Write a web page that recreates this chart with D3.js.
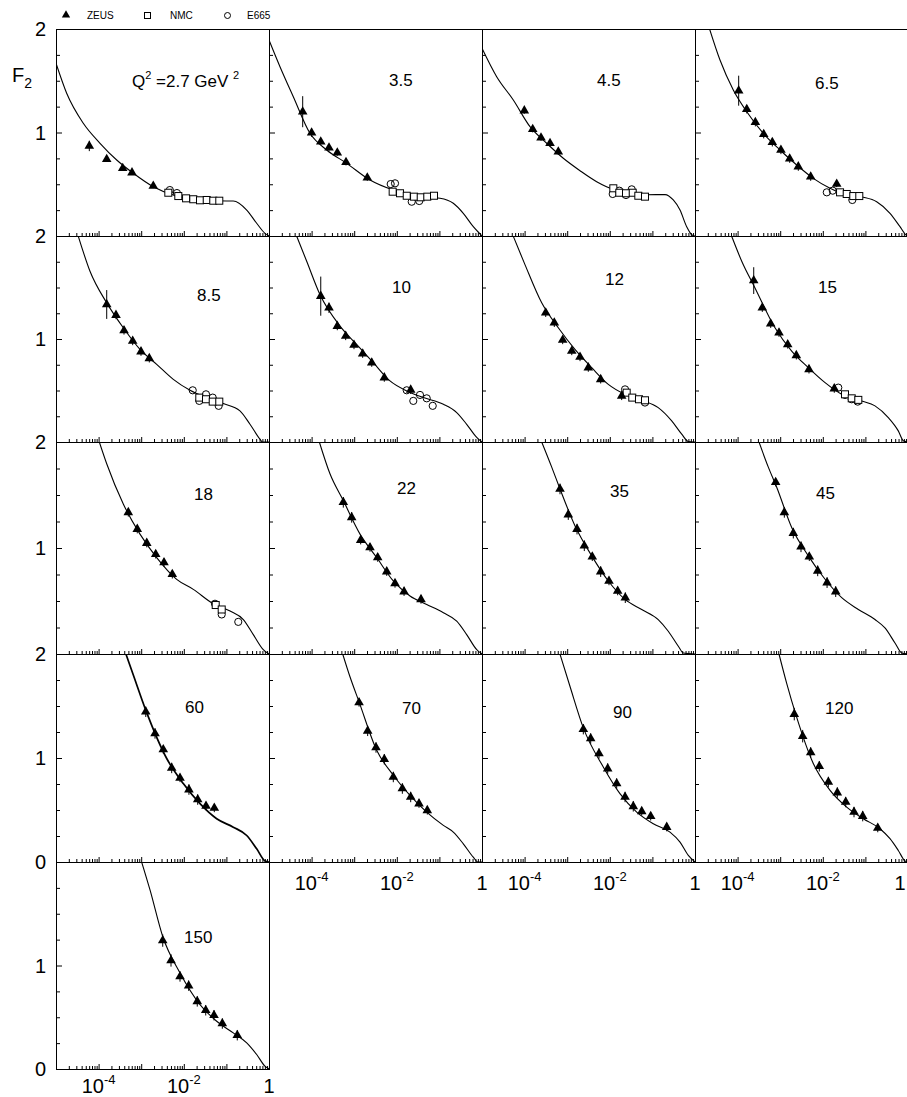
<!DOCTYPE html>
<html>
<head>
<meta charset="utf-8">
<script src="https://cdn.jsdelivr.net/npm/d3@7"></script>
<style>
body { margin: 0; background: #fff; }
text { font-family: "Liberation Sans", Arial, Helvetica, sans-serif; fill: #000; }
</style>
</head>
<body>
<div id="container"></div>
<script>

// Q^2 value of each panel (GeV^2)
var q2Labels = ['2.7', '3.5', '4.5', '6.5', '8.5', '10', '12', '15', '18', '22',
                '35', '45', '60', '70', '90', '120', '150'];

var seriesNames = ['ZEUS', 'NMC', 'E665'];

// ZEUS points per panel: [x, F2, error]
var zeus = [
  [[6.05e-5,0.87,0.05],[1.55e-4,0.741,0.02],[3.68e-4,0.654,0.02],[6.08e-4,0.612,0.02],[1.92e-3,0.483,0.02]],
  [[6.18e-5,1.201,0.15],[1.0e-4,0.998,0.04],[1.64e-4,0.911,0.03],[2.56e-4,0.853,0.03],[4.01e-4,0.805,0.03],[6.42e-4,0.712,0.03],[2.03e-3,0.563,0.03]],
  [[9.84e-5,1.211,0.03],[1.55e-4,1.031,0.03],[2.43e-4,0.950,0.03],[3.95e-4,0.896,0.03],[6.18e-4,0.814,0.03]],
  [[1.06e-4,1.404,0.145],[1.64e-4,1.224,0.04],[2.61e-4,1.099,0.04],[4.1e-4,0.983,0.04],[6.53e-4,0.905,0.04],[1.04e-3,0.831,0.04],[1.67e-3,0.747,0.04],[2.66e-3,0.670,0.04],[5.2e-3,0.573,0.04],[2.12e-2,0.502,0.03]],
  [[1.55e-4,1.335,0.14],[2.56e-4,1.232,0.04],[3.95e-4,1.083,0.04],[6.31e-4,0.980,0.04],[9.89e-4,0.877,0.04],[1.55e-3,0.812,0.04]],
  [[1.64e-4,1.416,0.19],[2.56e-4,1.303,0.05],[4.01e-4,1.125,0.04],[6.31e-4,1.029,0.04],[9.89e-4,0.941,0.04],[1.58e-3,0.857,0.04],[2.58e-3,0.770,0.04],[5.09e-3,0.625,0.04],[2.12e-2,0.506,0.04]],
  [[3.13e-4,1.254,0.04],[4.98e-4,1.157,0.04],[7.83e-4,0.990,0.04],[1.28e-3,0.883,0.04],[2.0e-3,0.825,0.04],[3.13e-3,0.722,0.04],[6.11e-3,0.608,0.04],[1.9e-2,0.447,0.04]],
  [[2.39e-4,1.567,0.13],[3.8e-4,1.303,0.04],[5.98e-4,1.148,0.04],[9.37e-4,1.061,0.04],[1.5e-3,0.947,0.04],[2.39e-3,0.841,0.04],[4.74e-3,0.705,0.04],[1.86e-2,0.518,0.04]],
  [[4.98e-4,1.336,0.04],[8.09e-4,1.178,0.04],[1.35e-3,1.046,0.04],[2.19e-3,0.941,0.04],[3.43e-3,0.863,0.04],[5.37e-3,0.752,0.04]],
  [[5.55e-4,1.431,0.05],[8.73e-4,1.289,0.05],[1.42e-3,1.074,0.04],[2.35e-3,1.005,0.04],[3.56e-3,0.910,0.04],[5.8e-3,0.777,0.04],[9.08e-3,0.666,0.04],[1.48e-2,0.588,0.04],[3.7e-2,0.515,0.04]],
  [[6.78e-4,1.557,0.05],[1.06e-3,1.315,0.05],[1.7e-3,1.178,0.05],[2.52e-3,1.021,0.05],[3.88e-3,0.917,0.04],[6.11e-3,0.777,0.05],[9.57e-3,0.689,0.04],[1.53e-2,0.594,0.04],[2.31e-2,0.531,0.05]],
  [[7.83e-4,1.621,0.04],[1.25e-3,1.336,0.05],[2.03e-3,1.140,0.05],[3.08e-3,1.011,0.05],[4.82e-3,0.917,0.04],[7.59e-3,0.784,0.05],[1.26e-2,0.673,0.05],[2.01e-2,0.588,0.05]],
  [[1.28e-3,1.444,0.05],[2.11e-3,1.236,0.05],[3.3e-3,1.081,0.04],[5.2e-3,0.904,0.05],[8.15e-3,0.808,0.04],[1.32e-2,0.696,0.05],[2.12e-2,0.600,0.05],[3.32e-2,0.538,0.04],[5.2e-2,0.519,0.04]],
  [[1.3e-3,1.534,0.04],[2.07e-3,1.261,0.05],[3.25e-3,1.101,0.05],[5.09e-3,0.988,0.05],[8.28e-3,0.817,0.05],[1.35e-2,0.706,0.05],[2.12e-2,0.625,0.05],[3.32e-2,0.561,0.04],[5.2e-2,0.496,0.04]],
  [[2.39e-3,1.277,0.05],[3.56e-3,1.187,0.05],[5.57e-3,1.043,0.05],[8.93e-3,0.898,0.05],[1.45e-2,0.754,0.05],[2.28e-2,0.625,0.05],[3.56e-2,0.535,0.05],[5.61e-2,0.487,0.04],[9.12e-2,0.439,0.04],[0.217,0.335,0.04]],
  [[2.14e-3,1.422,0.06],[3.37e-3,1.210,0.06],[5.2e-3,1.053,0.05],[8.28e-3,0.920,0.05],[1.35e-2,0.769,0.05],[2.19e-2,0.667,0.05],[3.45e-2,0.576,0.05],[5.4e-2,0.480,0.05],[8.65e-2,0.441,0.05],[0.195,0.326,0.04]],
  [[3.2e-3,1.241,0.06],[5.01e-3,1.049,0.06],[8.15e-3,0.894,0.05],[1.3e-2,0.805,0.05],[2.07e-2,0.653,0.05],[3.27e-2,0.567,0.05],[5.12e-2,0.519,0.05],[8.02e-2,0.439,0.05],[0.18,0.326,0.05]]
];

// NMC points per panel: [x, F2]
var nmc = [
  [[4.33e-3,0.418],[7.43e-3,0.386],[1.13e-2,0.364],[1.67e-2,0.355],[2.4e-2,0.345],[3.45e-2,0.348],[4.92e-2,0.341],[6.81e-2,0.341]],
  [[8.0e-3,0.428],[1.19e-2,0.413],[1.71e-2,0.389],[2.54e-2,0.380],[3.64e-2,0.374],[5.2e-2,0.380],[7.47e-2,0.389]],
  [[1.21e-2,0.461],[1.67e-2,0.418],[2.4e-2,0.413],[3.45e-2,0.418],[4.67e-2,0.389],[6.7e-2,0.380]],
  [[2.54e-2,0.422],[3.64e-2,0.406],[5.2e-2,0.386],[7.19e-2,0.386]],
  [[2.31e-2,0.431],[3.32e-2,0.415],[4.77e-2,0.392],[6.81e-2,0.392]],
  [],
  [[2.49e-2,0.479],[3.37e-2,0.431],[4.84e-2,0.415],[6.7e-2,0.405]],
  [[3.32e-2,0.463],[4.77e-2,0.424],[6.82e-2,0.409]],
  [[5.61e-2,0.462],[7.76e-2,0.420]],
  [], [], [], [], [], [], [], []
];

// E665 points per panel: [x, F2]
var e665 = [
  [[4.7e-3,0.444],[6.9e-3,0.415]],
  [[7.19e-3,0.502],[9.08e-3,0.509],[2.24e-2,0.331],[3.37e-2,0.338]],
  [[1.17e-2,0.406],[1.67e-2,0.438],[2.4e-2,0.396],[3.27e-2,0.451]],
  [[1.24e-2,0.422],[1.71e-2,0.438],[4.93e-2,0.348]],
  [[1.62e-2,0.502],[2.31e-2,0.399],[3.32e-2,0.463],[4.77e-2,0.431],[6.59e-2,0.351]],
  [[1.71e-2,0.502],[2.44e-2,0.399],[3.5e-2,0.457],[5.04e-2,0.424],[6.97e-2,0.351]],
  [[2.28e-2,0.511],[6.7e-2,0.383]],
  [[2.31e-2,0.528],[3.32e-2,0.457],[4.77e-2,0.415],[6.59e-2,0.392]],
  [[5.4e-2,0.474],[7.76e-2,0.373],[0.19,0.303]],
  [], [], [], [], [], [], [], []
];

// fitted F2 curve per panel: [x, F2]
var theory = [
  [[1e-5,1.669],[1.78e-5,1.379],[4.37e-5,1.089],[1.08e-4,0.896],[2.66e-4,0.734],[6.53e-4,0.606],[1.92e-3,0.476],[5.67e-3,0.396],[2.4e-2,0.348],[0.1016,0.338],[0.145,0.338],[0.30,0.251],[0.514,0.123],[0.806,0.026],[1,0]],
  [[1e-5,1.894],[1.81e-5,1.636],[3.72e-5,1.346],[9.17e-5,0.992],[2.26e-4,0.831],[6.67e-4,0.702],[2.35e-3,0.541],[8.28e-3,0.444],[3.5e-2,0.380],[0.103,0.364],[0.212,0.316],[0.364,0.219],[0.625,0.09],[0.897,0.02],[1,0]],
  [[1e-5,1.814],[2.21e-5,1.539],[5.43e-5,1.314],[1.34e-4,1.056],[3.3e-4,0.896],[8.1e-4,0.751],[2.0e-3,0.631],[4.92e-3,0.525],[1.21e-2,0.451],[2.98e-2,0.418],[7.35e-2,0.399],[0.198,0.400],[0.309,0.348],[0.445,0.251],[0.638,0.09],[0.85,0.01],[1,0]],
  [[2.17e-5,2.007],[3.86e-5,1.700],[7.92e-5,1.411],[1.64e-4,1.201],[4.01e-4,0.992],[9.89e-4,0.831],[2.44e-3,0.686],[5.98e-3,0.557],[1.48e-2,0.461],[3.64e-2,0.396],[8.94e-2,0.374],[0.184,0.331],[0.378,0.219],[0.649,0.09],[0.9,0.01],[1,0]],
  [[3.34e-5,1.997],[6.28e-5,1.658],[1.55e-4,1.351],[3.8e-4,1.109],[9.37e-4,0.899],[2.31e-3,0.754],[5.67e-3,0.608],[1.4e-2,0.502],[3.45e-2,0.431],[8.45e-2,0.373],[0.208,0.302],[0.358,0.172],[0.615,0.027],[0.7,0],[1,0]],
  [[4.47e-5,1.997],[7.67e-5,1.755],[1.57e-4,1.432],[4.65e-4,1.125],[1.14e-3,0.947],[2.81e-3,0.770],[6.92e-3,0.593],[1.71e-2,0.496],[4.19e-2,0.431],[0.124,0.366],[0.255,0.286],[0.437,0.172],[0.752,0.044],[1,0]],
  [[5.43e-5,1.997],[1.02e-4,1.722],[2.52e-4,1.351],[6.18e-4,1.109],[1.52e-3,0.899],[3.76e-3,0.722],[9.23e-3,0.560],[2.28e-2,0.463],[5.61e-2,0.405],[0.137,0.334],[0.284,0.205],[0.488,0.076],[0.697,0.005],[1,0]],
  [[7.26e-5,1.997],[1.25e-4,1.755],[2.56e-4,1.496],[7.55e-4,1.109],[1.86e-3,0.883],[4.57e-3,0.722],[1.13e-2,0.576],[2.78e-2,0.463],[8.18e-2,0.399],[0.168,0.351],[0.345,0.237],[0.592,0.108],[0.776,0.012],[1,0]],
  [[1.04e-4,2.0],[1.55e-4,1.795],[3.8e-4,1.415],[9.37e-4,1.131],[2.31e-3,0.910],[6.81e-3,0.704],[1.67e-2,0.610],[4.92e-2,0.474],[0.122,0.405],[0.25,0.325],[0.428,0.183],[0.735,0.041],[1,0]],
  [[1.52e-4,2.0],[2.7e-4,1.700],[5.55e-4,1.447],[1.37e-3,1.131],[3.37e-3,0.910],[8.28e-3,0.689],[2.04e-2,0.547],[5.04e-2,0.467],[0.124,0.389],[0.255,0.310],[0.437,0.183],[0.752,0.041],[1,0]],
  [[2.52e-4,2.0],[4.33e-4,1.763],[6.78e-4,1.557],[1.52e-3,1.210],[3.76e-3,0.926],[9.23e-3,0.689],[2.28e-2,0.515],[5.61e-2,0.420],[0.137,0.325],[0.236,0.215],[0.406,0.073],[0.531,0.01],[1,0]],
  [[3.18e-4,2.0],[5.26e-4,1.763],[8.28e-4,1.573],[1.86e-3,1.194],[4.57e-3,0.926],[1.13e-2,0.705],[2.78e-2,0.531],[6.82e-2,0.420],[0.168,0.325],[0.288,0.246],[0.495,0.104],[0.711,0.01],[1,0]],
  [[4.4e-4,1.997],[6.53e-4,1.798],[1.28e-3,1.460],[3.97e-3,0.995],[9.73e-3,0.754],[2.4e-2,0.561],[5.92e-2,0.416],[0.145,0.335],[0.30,0.255],[0.514,0.127],[0.806,0.01],[1,0]],
  [[5.37e-4,2.0],[7.96e-4,1.781],[1.3e-3,1.540],[3.37e-3,1.075],[8.28e-3,0.834],[2.04e-2,0.641],[5.04e-2,0.480],[0.124,0.352],[0.212,0.287],[0.364,0.175],[0.625,0.046],[0.8,0],[1,0]],
  [[6.78e-4,1.997],[1.16e-3,1.690],[2.39e-3,1.290],[7.03e-3,0.914],[1.73e-2,0.657],[4.28e-2,0.480],[0.105,0.368],[0.259,0.287],[0.445,0.191],[0.697,0.063],[1,0]],
  [[9.37e-4,2.0],[1.42e-3,1.718],[2.35e-3,1.412],[5.98e-3,0.947],[1.48e-2,0.689],[3.64e-2,0.528],[8.94e-2,0.416],[0.22,0.320],[0.378,0.224],[0.592,0.111],[0.85,0.01],[1,0]],
  [[1.03e-3,1.997],[1.61e-3,1.730],[3.2e-3,1.280],[8.15e-3,0.927],[2.4e-2,0.622],[5.92e-2,0.461],[0.145,0.349],[0.30,0.253],[0.514,0.140],[0.806,0.027],[1,0]]
];

// axis labels
var yLabelRows = [[2, 1], [2, 1], [2, 1], [2, 1, 0], [1, 0]];
var xTickLabels = [[1e-4, '10', '-4'], [1e-2, '10', '-2'], [1, '1', '']];
var xLabelPanels = [13, 14, 15, 16];

// layout
var width = 907, height = 1097;
var colLeft = [56, 269, 482, 695];
var panelW = 213;
var rowEdges = [29, 236, 442, 654, 862, 1069];
var xLabelBase = [0, 0, 0, 890, 1093];
// panel label offset from panel top-left: [dx, baseline dy]
var labelPos = [[76,58],[120,57],[115,57],[120,60],[141,65],[123,57],[123,49],[123,57],
                [138,58],[128,52],[128,55],[121,57],[129,59],[133,60],[131,64],[130,60],[128,81]];

var svg = d3.select('#container').append('svg')
    .attr('width', width)
    .attr('height', height);

var majors = d3.range(-5, 1).map(function (k) { return Math.pow(10, k); });
var minors = [];
d3.range(-5, 0).forEach(function (k) {
    d3.range(2, 10).forEach(function (m) { minors.push(m * Math.pow(10, k)); });
});

var triangle = d3.symbol().type(d3.symbolTriangle).size(40);

q2Labels.forEach(function (label, i) {
    var col = i % 4, row = Math.floor(i / 4);
    var left = colLeft[col], top = rowEdges[row], bottom = rowEdges[row + 1];

    var x = d3.scaleLog().domain([1e-5, 1]).range([left, left + panelW]);
    var y = d3.scaleLinear().domain([0, 2]).range([bottom, top]);

    var g = svg.append('g');

    g.append('clipPath').attr('id', 'clip' + i)
      .append('rect')
        .attr('x', left).attr('y', top)
        .attr('width', panelW).attr('height', bottom - top);

    g.append('rect')
        .attr('x', left + 0.5).attr('y', top + 0.5)
        .attr('width', panelW).attr('height', bottom - top)
        .attr('fill', 'none')
        .attr('stroke', '#000')
        .attr('stroke-width', 1);

    // x ticks, pointing up into the panel
    [[majors, -5], [minors, -3]].forEach(function (t) {
        var ax = g.append('g')
            .attr('transform', 'translate(0,' + bottom + ')')
            .call(d3.axisBottom(x).tickValues(t[0]).tickSize(t[1]).tickFormat(''));
        ax.select('.domain').remove();
    });

    // y ticks, pointing right
    [[[0, 1, 2], -6], [[0.25, 0.5, 0.75, 1.25, 1.5, 1.75], -4]].forEach(function (t) {
        var ay = g.append('g')
            .attr('transform', 'translate(' + left + ',0)')
            .call(d3.axisLeft(y).tickValues(t[0]).tickSize(t[1]).tickFormat(''));
        ay.select('.domain').remove();
    });

    var line = d3.line()
        .x(function (d) { return x(d[0]); })
        .y(function (d) { return y(d[1]); })
        .curve(d3.curveMonotoneX);

    g.append('path')
        .datum(theory[i])
        .attr('clip-path', 'url(#clip' + i + ')')
        .attr('d', line)
        .attr('fill', 'none')
        .attr('stroke', '#000')
        .attr('stroke-width', i == 12 ? 1.7 : 1.1);

    // E665 circles
    g.selectAll('circle.e665').data(e665[i]).enter().append('circle')
        .attr('class', 'e665')
        .attr('cx', function (d) { return x(d[0]); })
        .attr('cy', function (d) { return y(d[1]); })
        .attr('r', 3.6)
        .attr('fill', 'none')
        .attr('stroke', '#000');

    // NMC squares
    g.selectAll('rect.nmc').data(nmc[i]).enter().append('rect')
        .attr('class', 'nmc')
        .attr('x', function (d) { return x(d[0]) - 3.5; })
        .attr('y', function (d) { return y(d[1]) - 3.5; })
        .attr('width', 7).attr('height', 7)
        .attr('fill', '#fff')
        .attr('stroke', '#000');

    // ZEUS error bars and triangles
    g.selectAll('line.err').data(zeus[i]).enter().append('line')
        .attr('class', 'err')
        .attr('x1', function (d) { return x(d[0]); })
        .attr('x2', function (d) { return x(d[0]); })
        .attr('y1', function (d) { return y(d[1] - d[2]); })
        .attr('y2', function (d) { return y(d[1] + d[2]); })
        .attr('stroke', '#000');

    g.selectAll('path.zeus').data(zeus[i]).enter().append('path')
        .attr('class', 'zeus')
        .attr('d', triangle)
        .attr('transform', function (d) { return 'translate(' + x(d[0]) + ',' + y(d[1]) + ')'; })
        .attr('fill', '#000');

    // Q^2 label
    var t = g.append('text')
        .attr('x', left + labelPos[i][0])
        .attr('y', top + labelPos[i][1])
        .attr('font-size', 17);
    if (i == 0) {
        t.append('tspan').text('Q');
        t.append('tspan').attr('dy', -8).attr('font-size', 11).text('2');
        t.append('tspan').attr('dy', 8).text(' =' + label + ' GeV ');
        t.append('tspan').attr('dy', -8).attr('font-size', 11).text('2');
    } else {
        t.text(label);
    }

    // y tick labels on left column
    if (col == 0) {
        yLabelRows[row].forEach(function (v) {
            g.append('text')
                .attr('x', 46)
                .attr('y', y(v))
                .attr('dy', '0.36em')
                .attr('text-anchor', 'end')
                .attr('font-size', 20)
                .text(v);
        });
    }

    // x tick labels under the last panel of each column
    if (xLabelPanels.indexOf(i) >= 0) {
        xTickLabels.forEach(function (d) {
            var tx = g.append('text')
                .attr('x', Math.min(x(d[0]), width - 7))
                .attr('y', xLabelBase[row])
                .attr('text-anchor', 'middle')
                .attr('font-size', 20);
            tx.append('tspan').text(d[1]);
            if (d[2]) tx.append('tspan').attr('dy', -9).attr('font-size', 13).text(d[2]);
        });
    }
});

// F2 axis title
var f2 = svg.append('text').attr('x', 12).attr('y', 82).attr('font-size', 20);
f2.append('tspan').text('F');
f2.append('tspan').attr('dy', 6).attr('font-size', 14).text('2');

// legend
var legend = svg.append('g').attr('font-size', 10);
legend.append('path')
    .attr('d', d3.symbol().type(d3.symbolTriangle).size(30))
    .attr('transform', 'translate(66,15)')
    .attr('fill', '#000');
legend.append('rect')
    .attr('x', 144.5).attr('y', 12.5).attr('width', 6).attr('height', 6)
    .attr('fill', 'none').attr('stroke', '#000');
legend.append('circle')
    .attr('cx', 227.5).attr('cy', 15.5).attr('r', 3)
    .attr('fill', 'none').attr('stroke', '#000');
[87, 170, 247].forEach(function (lx, k) {
    legend.append('text').attr('x', lx).attr('y', 19).text(seriesNames[k]);
});

</script>
</body>
</html>
